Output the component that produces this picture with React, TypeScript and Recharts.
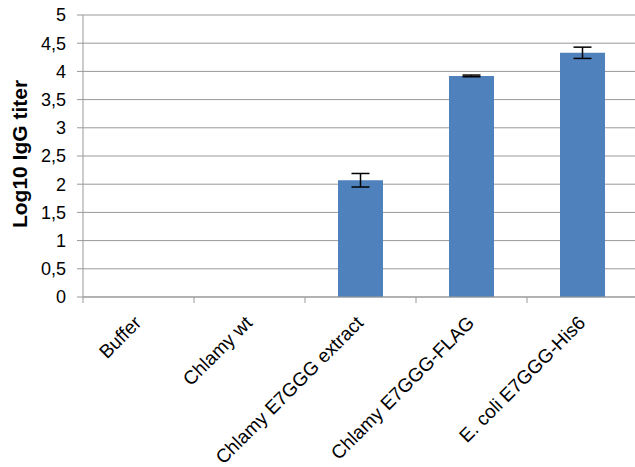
import { BarChart, Bar, XAxis, YAxis, CartesianGrid, ErrorBar, Label } from "recharts";

const categories = [
  "Buffer",
  "Chlamy wt",
  "Chlamy E7GGG extract",
  "Chlamy E7GGG-FLAG",
  "E. coli E7GGG-His6",
];
const titers = [null, null, 2.07, 3.92, 4.33];
const titerErrors = [null, null, 0.12, 0.015, 0.1];
const yTicks = [0, 0.5, 1, 1.5, 2, 2.5, 3, 3.5, 4, 4.5, 5];

const data = categories.map((name, i) => ({
  name,
  titer: titers[i],
  err: titerErrors[i],
}));

const W = 640;
const H = 467;
const M = { top: 15, right: 2, bottom: 0, left: 0 };
const Y_WIDTH = 83;
const BAND = (W - M.left - M.right - Y_WIDTH) / categories.length;
const FONT = "'Liberation Sans', Arial, sans-serif";

function CategoryTick(props: any) {
  const { x, y, payload, index } = props;
  const isLast = index === categories.length - 1;
  return (
    <g>
      <line x1={x - BAND / 2} x2={x - BAND / 2} y1={y - 8} y2={y - 2} stroke="#999" />
      {isLast && (
        <line x1={x + BAND / 2} x2={x + BAND / 2} y1={y - 8} y2={y - 2} stroke="#999" />
      )}
      <g transform={`translate(${x + 4},${y + 19})`}>
        <text
          x={0}
          y={0}
          textAnchor="end"
          transform="rotate(-45)"
          fontSize={19}
          fontFamily={FONT}
          fill="#000"
        >
          {payload.value}
        </text>
      </g>
    </g>
  );
}

function AxisTitle() {
  return (
    <text
      x={27}
      y={154}
      transform="rotate(-90, 27, 154)"
      textAnchor="middle"
      fontSize={21}
      fontWeight="bold"
      fontFamily={FONT}
      fill="#000"
    >
      Log10 IgG titer
    </text>
  );
}

export default function App() {
  return (
    <div
      style={{
        position: "absolute",
        left: 0,
        top: 0,
        width: 635,
        height: H,
        overflow: "hidden",
        background: "#fff",
      }}
    >
      <BarChart width={W} height={H} data={data} margin={M} barSize={45}>
        <CartesianGrid vertical={false} stroke="#999" />
        <XAxis
          dataKey="name"
          height={170}
          stroke="#999"
          tickLine={false}
          tick={<CategoryTick />}
          interval={0}
        />
        <YAxis
          width={Y_WIDTH}
          domain={[0, 5]}
          ticks={yTicks}
          stroke="#999"
          tickSize={6}
          tickMargin={11}
          tick={{ fill: "#000", fontSize: 18, fontFamily: FONT }}
          tickFormatter={(v: number) => String(v).replace(".", ",")}
        >
          <Label content={<AxisTitle />} />
        </YAxis>
        <Bar dataKey="titer" fill="#4F81BD" isAnimationActive={false}>
          <ErrorBar dataKey="err" width={9} stroke="#000" strokeWidth={1.5} />
        </Bar>
      </BarChart>
    </div>
  );
}
